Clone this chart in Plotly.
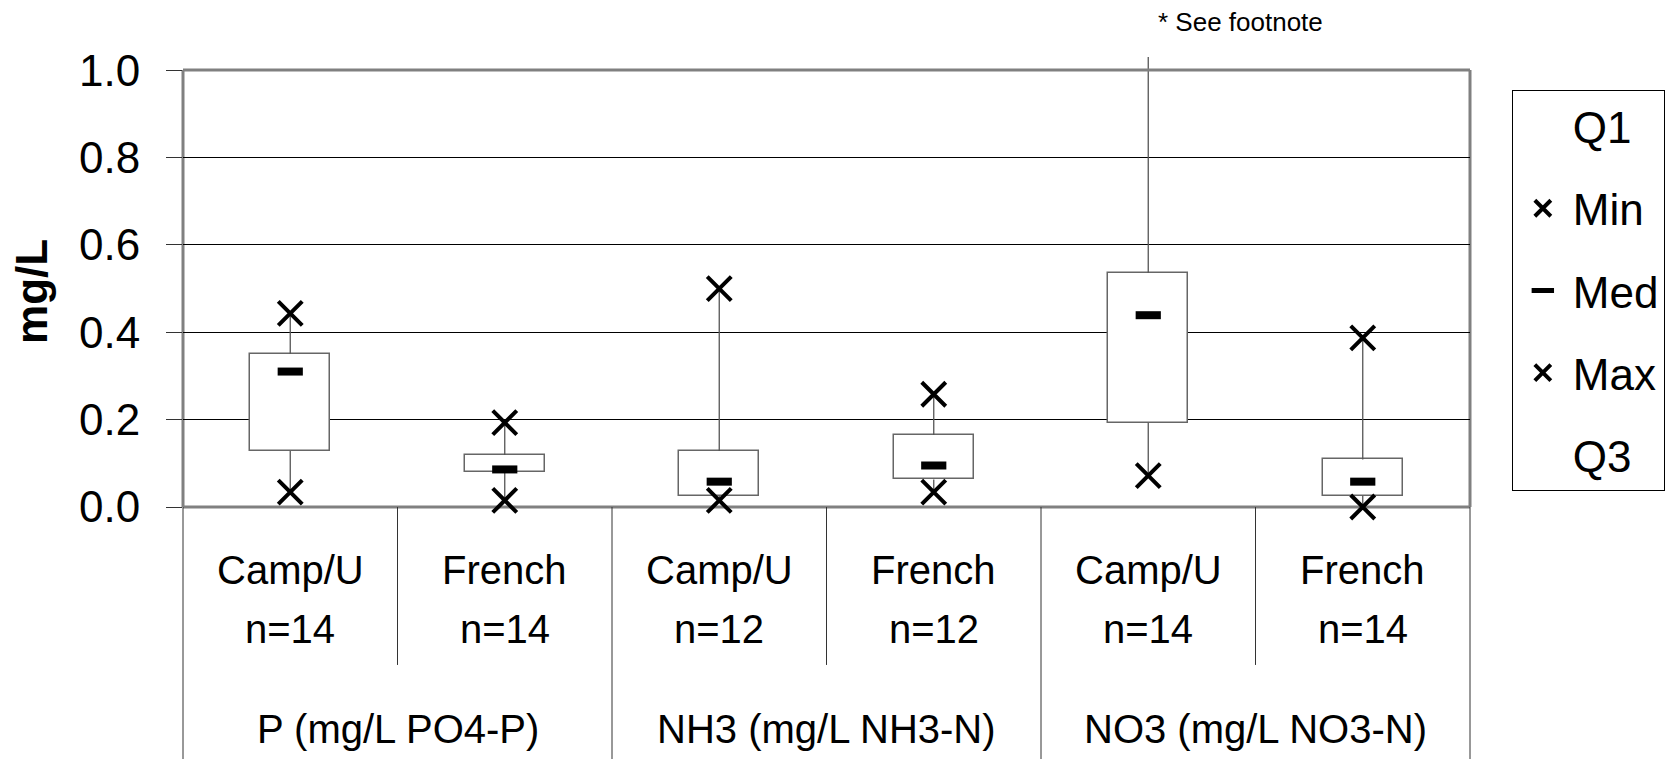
import plotly.graph_objects as go

# ---------------- data ----------------
groups = ["P (mg/L PO4-P)", "NH3 (mg/L NH3-N)", "NO3 (mg/L NO3-N)"]
sites = ["Camp/U", "French", "Camp/U", "French", "Camp/U", "French"]
n_obs = [14, 14, 12, 12, 14, 14]
q1_vals = [0.128, 0.081, 0.026, 0.063, 0.193, 0.026]
med_vals = [0.310, 0.086, 0.058, 0.095, 0.439, 0.058]
q3_vals = [0.351, 0.119, 0.128, 0.165, 0.536, 0.109]
min_vals = [0.034, 0.015, 0.015, 0.034, 0.072, 0.000]
max_vals = [0.443, 0.193, 0.500, 0.258, 1.05, 0.387]   # NO3 Camp/U max is off scale
y_ticks = [0.0, 0.2, 0.4, 0.6, 0.8, 1.0]
footnote = "* See footnote"
y_title = "mg/L"

Y_TOP = 1.03
FONT = "Liberation Sans, Arial, sans-serif"

xpos = [i + 0.5 for i in range(len(sites))]
gpos = [2 * i + 1 for i in range(len(groups))]

fig = go.Figure()

# whiskers (min -> Q1 and Q3 -> max)
wx, wy = [], []
for x, mn, a, b, mx in zip(xpos, min_vals, q1_vals, q3_vals, max_vals):
    wx += [x, x, None, x, x, None]
    wy += [mn, a, None, b, mx, None]
fig.add_trace(go.Scatter(x=wx, y=wy, mode="lines", line=dict(color="#555555", width=1.3),
                         showlegend=False, hoverinfo="skip"))

# boxes Q1..Q3
fig.add_trace(go.Bar(x=xpos, y=[b - a for a, b in zip(q1_vals, q3_vals)], base=q1_vals,
                     width=0.372, marker=dict(color="white", line=dict(color="#666666", width=1.5)),
                     showlegend=False, hoverinfo="skip"))

xmark = dict(symbol="x-thin", size=24, color="black", line=dict(color="black", width=4))
clear = dict(size=10, color="rgba(0,0,0,0)", line=dict(width=0))

fig.add_trace(go.Scatter(x=xpos, y=q1_vals, mode="markers", name="Q1",
                         marker=clear, legendgroup="a", legendrank=1, hoverinfo="skip"))
fig.add_trace(go.Scatter(x=xpos, y=min_vals, mode="markers", name="Min",
                         marker=xmark, legendgroup="b", legendrank=2, cliponaxis=False))
fig.add_trace(go.Scatter(x=xpos, y=med_vals, mode="markers", name="Med",
                         marker=dict(symbol="line-ew", size=18, color="black",
                                     line=dict(color="black", width=8)),
                         legendgroup="c", legendrank=3))
fig.add_trace(go.Scatter(x=xpos, y=[v if v <= 1.0 else None for v in max_vals], mode="markers",
                         name="Max", marker=xmark, legendgroup="d", legendrank=4))
fig.add_trace(go.Scatter(x=xpos, y=q3_vals, mode="markers", name="Q3",
                         marker=clear, legendgroup="e", legendrank=5, hoverinfo="skip"))

# ---------------- frame ----------------
frame = dict(color="#808080", width=3)
shapes = [
    dict(type="line", xref="x domain", yref="y", x0=0, x1=1, y0=1.0, y1=1.0, line=frame, layer="above"),
    dict(type="line", xref="x domain", yref="y domain", x0=0, x1=1, y0=0, y1=0, line=frame, layer="below"),
    dict(type="line", xref="x domain", yref="y", x0=0, x1=0, y0=0, y1=1.0, line=frame, layer="below"),
    dict(type="line", xref="x domain", yref="y", x0=1, x1=1, y0=0, y1=1.0, line=frame, layer="below"),
]
sep = dict(color="#333333", width=1)
# category separators (short) and group separators (long)
for k in range(1, len(sites)):
    if k % 2 == 1:
        shapes.append(dict(type="line", xref="x", yref="paper", x0=k, x1=k, y0=0, y1=-0.351, line=sep))
    else:
        shapes.append(dict(type="line", xref="x", yref="paper", x0=k, x1=k, y0=0, y1=-0.6, line=sep))
for xd in (0, 1):
    shapes.append(dict(type="line", xref="x domain", yref="paper", x0=xd, x1=xd, y0=0, y1=-0.6, line=sep))

LBL = dict(size=40, color="black", family=FONT)
annotations = []
for x, s, n in zip(xpos, sites, n_obs):
    annotations.append(dict(x=x, y=-0.140, xref="x", yref="paper", text=s, showarrow=False,
                            yanchor="middle", font=LBL))
    annotations.append(dict(x=x, y=-0.272, xref="x", yref="paper", text=f"n={n}", showarrow=False,
                            yanchor="middle", font=LBL))
for x, g in zip(gpos, groups):
    annotations.append(dict(x=x, y=-0.493, xref="x", yref="paper", text=g, showarrow=False,
                            yanchor="middle", font=LBL))
annotations.append(dict(x=xpos[4], y=1.0778, xref="x", yref="paper", text=footnote, showarrow=False,
                        xanchor="left", yanchor="middle", xshift=8,
                        font=dict(size=26, color="black", family=FONT)))
annotations.append(dict(x=-0.1172, y=0.4784, xref="paper", yref="paper", text=f"<b>{y_title}</b>",
                        showarrow=False, textangle=-90, xanchor="center", yanchor="middle",
                        font=dict(size=44, color="black", family=FONT)))

fig.update_layout(
    width=1677, height=759,
    margin=dict(l=183, r=203, t=57, b=252, pad=0),
    paper_bgcolor="white", plot_bgcolor="white",
    font=dict(family=FONT, color="black"),
    shapes=shapes, annotations=annotations,
    bargap=0, showlegend=True,
    legend=dict(x=1.0325, y=0.9267, xanchor="left", yanchor="top",
                bordercolor="black", borderwidth=1, bgcolor="white",
                font=dict(size=44, family=FONT, color="black"),
                traceorder="grouped", tracegroupgap=22, itemwidth=50),
    xaxis=dict(range=[0, len(sites)], showgrid=False, zeroline=False, showticklabels=False,
               ticks="", showline=False, fixedrange=True),
    yaxis=dict(range=[0, Y_TOP], tickvals=y_ticks, tickformat=".1f",
               showgrid=True, gridcolor="black", gridwidth=1, zeroline=False,
               ticks="outside", ticklen=16, tickcolor="#333333", tickwidth=1,
               ticklabelstandoff=17, showline=False,
               tickfont=dict(size=44, family=FONT, color="black"), fixedrange=True),
)

fig.write_html("out.html", config={"displayModeBar": False},
               post_script="document.body.style.margin='0';document.body.style.overflow='hidden';")
